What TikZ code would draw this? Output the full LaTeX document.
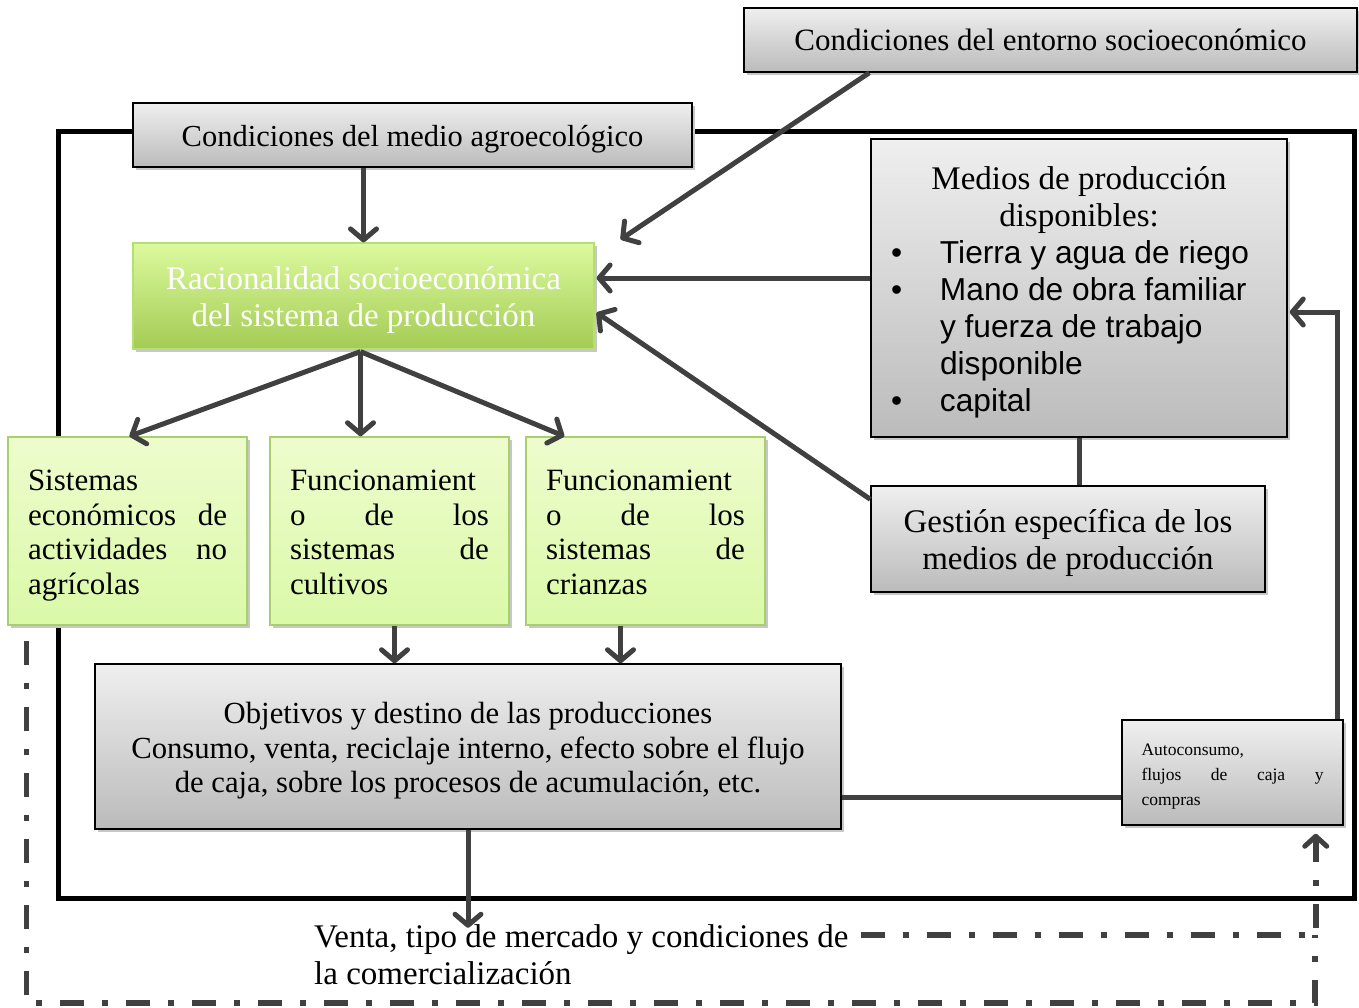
\documentclass[tikz,border=0pt]{standalone}
\usepackage{fontspec}
\setmainfont{Liberation Serif}
\setsansfont{Liberation Sans}
\usetikzlibrary{arrows.meta,calc,shadows}
\definecolor{linegray}{HTML}{404040}
\definecolor{gtop}{HTML}{EFEFEF}
\definecolor{gbot}{HTML}{BBBBBB}
\definecolor{grtop}{HTML}{DCFA9E}
\definecolor{grbot}{HTML}{A4CB55}
\definecolor{grborder}{HTML}{B5DE74}
\definecolor{lgtop}{HTML}{EEFCCD}
\definecolor{lgbot}{HTML}{DAF9A8}
\definecolor{lgborder}{HTML}{A8D06A}
\newcommand\medline[2]{\makebox[376pt][l]{\sffamily\fontsize{31.7}{37}\selectfont\makebox[49pt][l]{#1}#2}}
\newcommand\up[1]{\rule{0pt}{#1}}
\begin{document}
\begin{tikzpicture}[x=1pt,y=-1pt,
  shadowed/.style={drop shadow={shadow xshift=3pt,shadow yshift=-3pt,fill=black!22,opacity=1}},
  graybox/.style={shadowed,draw=black,line width=1.5pt,top color=gtop,bottom color=gbot,inner sep=0pt,align=center},
  greenbox/.style={shadowed,draw=grborder,line width=1.2pt,top color=grtop,bottom color=grbot,inner sep=0pt,align=center,text=white},
  lightbox/.style={shadowed,draw=lgborder,line width=1.5pt,top color=lgtop,bottom color=lgbot,inner sep=0pt,minimum width=239pt,minimum height=188pt,text width=199pt,align=left,font=\fontsize{31}{34.5}\selectfont,
    execute at begin node={\rule{0pt}{32pt}},execute at end node={\rule[-9pt]{0pt}{9pt}}},
  big/.style={font=\fontsize{33}{37}\selectfont},
  tip/.style={-{Straight Barb[length=11pt,width=26pt,line width=5pt,line cap=round,line join=round]}},
  arr/.style={draw=linegray,line width=5pt,tip},
  plain/.style={draw=linegray,line width=5pt},
  dashdot/.style={draw=linegray,line width=5.5pt,dash pattern=on 24pt off 18pt on 6pt off 18pt}]
\useasboundingbox (0,0) rectangle (1359,1007);
\fill[white] (0,0) rectangle (1359,1007);
% outer frame
\draw[line width=5pt,black] (58,131) rectangle (1354,898);
% nodes
\node[graybox,minimum width=613pt,minimum height=64pt,font=\fontsize{31}{35}\selectfont] (entorno) at (1050.5,40) {Condiciones del entorno socioeconómico};
\node[graybox,minimum width=559pt,minimum height=64pt,font=\fontsize{30.5}{35}\selectfont] (cmedio) at (412.5,135) {\up{29pt}Condiciones del medio agroecológico};
\node[greenbox,big,minimum width=461pt,minimum height=106pt] (racional) at (363.5,296) {\up{31.5pt}Racionalidad socioeconómica\\del sistema de producción};
\node[graybox,big,minimum width=416pt,minimum height=298pt] (medios) at (1079,288) {\up{31.5pt}Medios de producción\\disponibles:\\
\medline{\textbullet}{Tierra y agua de riego}\\
\medline{\textbullet}{Mano de obra familiar}\\
\medline{}{y fuerza de trabajo}\\
\medline{}{disponible}\\
\medline{\textbullet}{capital}};
\node[graybox,big,minimum width=394pt,minimum height=106pt] (gestion) at (1068,539) {\up{31.5pt}Gestión específica de los\\medios de producción};
\node[lightbox] (sistemas) at (127.5,531) {Sistemas\\económicos\hfill de\\actividades\hfill no\\agrícolas};
\node[lightbox] (cultivos) at (389.5,531) {Funcionamient\\o\hfill de\hfill los\\sistemas\hfill de\\cultivos};
\node[lightbox] (crianzas) at (645.5,531) {Funcionamient\\o\hfill de\hfill los\\sistemas\hfill de\\crianzas};
\node[graybox,minimum width=746pt,minimum height=165pt,font=\fontsize{30.7}{34.5}\selectfont] (objetivos) at (468,746.5) {\up{30pt}Objetivos y destino de las producciones\\Consumo, venta, reciclaje interno, efecto sobre el flujo\\de caja, sobre los procesos de acumulación, etc.};
\node[graybox,minimum width=221pt,minimum height=105pt,text width=182pt,align=left,font=\fontsize{17.5}{25}\selectfont] (auto) at (1232.5,772.5) {\up{20pt}Autoconsumo,\\flujos\hfill de\hfill caja\hfill y\\compras};
\node[big,anchor=north west,inner sep=0pt,align=left] (venta) at (314,924) {Venta, tipo de mercado y condiciones de\\la comercialización};
% connectors
\draw[arr] (racional.north |- cmedio.south) -- (racional.north);
\draw[arr] ($(entorno.south west)+(126,0)$) -- ($(racional.north east)+(26,-3)$);
\draw[arr] ($(medios.west)+(0,-10)$) -- ($(racional.east)+(2,-18)$);
\draw[arr] ($(gestion.north west)+(0,14)$) -- ($(racional.south east)+(2,-37)$);
\draw[plain] (medios.south) -- (medios.south |- gestion.north);
\coordinate (rs) at ($(racional.south)+(-3,2)$);
\draw[arr] (rs) -- ($(sistemas.north)+(2,0)$);
\draw[arr] (rs) -- (rs |- cultivos.north);
\draw[arr] (rs) -- ($(crianzas.north west)+(39,0)$);
\draw[arr] ($(cultivos.south)+(5,0)$) -- ($(cultivos.south |- objetivos.north)+(5,0)$);
\draw[arr] ($(crianzas.south)+(-25,0)$) -- ($(crianzas.south |- objetivos.north)+(-25,0)$);
\coordinate (aw) at ($(auto.west)+(0,25)$);
\draw[plain] (objetivos.east |- aw) -- (aw);
\draw[arr] ($(auto.north east)+(-6,0)$) |- ($(medios.east)+(2,24)$);
\draw[arr] (objetivos.south) -- ++(0,98);
\coordinate (ddl) at ($(sistemas.south west)+(19,15)$);
\coordinate (ddr) at ($(auto.south east)+(-28,8)$);
\coordinate (vs) at ($(venta.north east)+(12,11)$);
\coordinate (ddb) at (1315,1003);
\coordinate (ddm) at (1315,935);
\draw[dashdot] (ddl) |- (ddb) -- (ddm);
\draw[dashdot,-{Straight Barb[length=10pt,width=22pt,line width=5pt,line cap=round,line join=round]}] (vs) -| (ddr);
\end{tikzpicture}
\end{document}
